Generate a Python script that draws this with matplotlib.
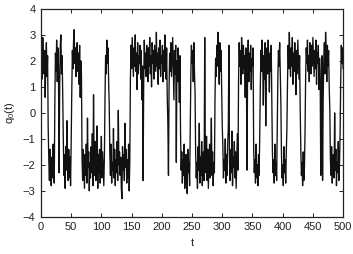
import numpy as np
import matplotlib
matplotlib.use("Agg")
import matplotlib.pyplot as plt

plt.rcParams['font.family'] = ['Liberation Sans', 'DejaVu Sans']
plt.rcParams['mathtext.default'] = 'regular'

# q0(t), one value per unit of t (0..500)
q0 = [
    1.6, 2.5, 1.3, 2.9, 2.0, 1.5, 2.4, 0.6, 1.9, 2.7, 1.4, 2.2,
    -0.6, -1.8, -2.6, -1.4, -2.3, -2.8, -1.7, -2.5, -1.2, -2.2, -2.7,
    0.4, 2.3, 1.6, 2.8, 1.2, 2.5, 1.8, -2.3, 1.0, 2.6, 3.0, 1.5, 2.2, 0.8,
    -1.0, -2.4, -1.6, -2.9, -1.3, -2.2, -0.3, -1.8, -2.6, -1.4, -2.5, -1.7, -2.8, -1.2,
    0.8, 2.4, 1.7, 2.8, 3.2, 1.9, 2.5, 1.4, 2.2, 2.7, 1.6, 2.3, 1.1, 2.6, 0.6, 2.0, 1.5,
    -1.8, -2.6, -1.4, -2.2, -2.9, -1.6, -2.4, -1.2, -2.7, -0.2, -2.1, -1.5, -3.0, -1.9,
    -2.5, -1.3, -2.3, -0.8, -2.8, 0.7, -1.7, -2.4, -1.1, -2.6, -2.0, -0.5, -2.9, -1.6,
    -2.3, -1.4, -2.7, -1.9, -0.9, -2.5, -1.5, -2.2, -2.8, -1.7,
    0.6, 2.2, 1.5, 2.8, 1.9, 2.5, 1.2, 0.3,
    -1.6, -2.4, -1.2, -2.7, -1.9, -2.2, -0.6, -2.5, -1.4, -2.8, -1.8, -2.3, -1.1, -2.6,
    0.1, -2.0, -1.5, -2.4, -1.7, -2.9, -3.3, -1.3, -2.2, -1.6, -2.6, -0.4, -2.1, -1.4,
    -2.7, -1.8, -2.5, -1.2, -3.0, -1.9,
    1.2, 2.6, 1.7, 2.9, 2.1, 1.4, 2.5, 1.8, 3.0, 1.6, 2.3, 0.9, 2.7, 1.5, 2.2, 1.9,
    2.6, 1.3, 2.4, 0.5, 1.8, -2.6, 1.1, 2.8, 1.7, 2.3, 1.4, 2.6, 2.0, 1.2, 2.5, 1.8,
    2.9, 1.5, 2.2, 1.0, 2.7, 1.9, 2.4, 1.3, 2.6, 2.1, 1.6, 3.1, 1.8, 2.3, 1.1, 2.5,
    1.7, 2.8, 1.4, 2.2, 1.9, 2.6, 1.2, 2.4, 1.6, 3.0, 2.0, 1.3, 2.5, 0.6, -0.4, -2.4,
    1.0, 2.3, 1.6, 2.7, 1.4, 2.1, 2.9, 1.8, 0.5, 2.4, 1.5, 2.6, -1.9, 2.0, 1.2, 2.5, 1.7, 0.4, 2.2,
    -0.8, -2.2, -1.5, -2.7, -1.8, -2.4, -1.2, -2.9, -2.0, -1.6, -2.6, -3.1, -1.4, -2.3, -1.9, -2.8, -0.6,
    1.4, 2.6, 1.9, 2.4, 1.2, 2.7, 1.6, 0.8,
    -1.6, -2.5, -1.9, -2.9, -1.3, -2.2, -0.4, -2.7, -1.7, -2.4, -1.1, -2.8, -2.0, -1.5, -2.6, 2.9,
    -1.8, -2.3, -0.9, -2.6, -1.4, -2.9, -2.1, -1.2, -2.5, -1.7, -0.2, -2.4, -1.5, -2.8, -1.9, -2.3,
    0.5, 2.1, 1.4, 2.6, 1.8, 3.1, 2.2, 1.1, 2.7, 1.6, 2.4, 0.9, -0.5,
    -1.3, -2.5, -1.8, -2.2, -1.0, -2.7, -1.6, -2.4, -1.2, -0.6, 2.6, -1.9, -2.6,
    -1.4, -2.3, -0.7, -2.8, -1.7, -2.1, -1.1, -2.5, -1.5, -2.9, -1.8, -0.8, -2.2,
    1.3, 2.7, 1.8, 2.4, 1.1, 2.9, 2.0, 1.5, 2.6, 1.7, 2.2, 0.6, 2.5, 1.4, -2.2,
    1.9, 2.8, 1.2, 2.3, 1.6, 2.6, 0.9, 2.1, 1.8, 2.5,
    -1.4, -2.3, -1.8, -2.7, -1.2, -2.5, -2.0, -2.8, -1.6, -2.4, -0.9,
    1.0, 2.4, 1.6, 2.8, 1.9, 0.3, 2.2, 1.3, 2.7, -0.5, 1.8, 2.5, 1.5, 2.8, 2.0, 0.8, 2.3, 1.6, 2.6, 0.4,
    -1.5, -2.3, -1.8, -2.7, -1.2, -2.4, -1.9, -2.6, -0.8,
    1.3, 2.4, 1.8, 2.7, 1.5, 0.4,
    -1.6, -2.5, -2.0, -2.8, -1.3, -2.3, -1.8, -2.7, -1.5, -0.6,
    1.2, 2.6, 1.7, 3.1, 2.0, 1.4, 2.5, 1.8, 2.9, 1.1, 2.3, 1.6, 2.7, 1.9, 0.7, 2.4,
    1.5, 2.8, 2.0, 1.3, 2.2, 0.2,
    -1.4, -2.4, -1.9, -2.8, -1.5, -2.6, -2.1, -0.7,
    1.4, 2.5, 1.9, 2.8, 1.6, 2.2, 1.2, 2.7, 2.0, 1.5, 2.6, 1.8, 2.9, 2.2, 1.4, 2.4,
    1.7, 2.8, 1.1, 2.3, 1.9, 2.6, 0.9, 2.1, 1.6,
    -2.4, 0.8, 2.2, -2.6, 0.5,
    2.0, 2.7, 1.5, 3.1, 2.3, 1.2, 2.6, 1.8, 2.4, 1.0, 0.1,
    -1.8, -2.4, -1.3, -2.7, -2.0, -1.6, -2.5, 0.0, -2.2, -1.4, -2.8, -1.9, -2.3, -1.1, -2.6, -2.0, -0.8,
    1.2, 2.6, 1.9, 2.5, 1.7,
]
t = np.arange(len(q0))

xticks = list(range(0, 501, 50))
yticks = list(range(-4, 5))

fig = plt.figure(figsize=(3.53, 2.54), dpi=100)
ax = fig.add_axes([0.116, 0.146, 0.856, 0.819])
ax.plot(t, q0, color='#111111', lw=0.95)

ax.set_xlim(0, 500)
ax.set_ylim(-4, 4)
ax.set_xticks(xticks)
ax.set_yticks(yticks)
ax.tick_params(direction='in', top=True, right=True, length=3, width=0.7,
               labelsize=8, colors='#222222', pad=4)
for s in ax.spines.values():
    s.set_linewidth(0.9)
    s.set_color('#222222')
ax.set_xlabel('t', fontsize=8, color='#222222', labelpad=4)
ax.set_ylabel('q$_0$(t)', fontsize=8, color='#222222', labelpad=4)

fig.savefig('out.png', dpi=100)
